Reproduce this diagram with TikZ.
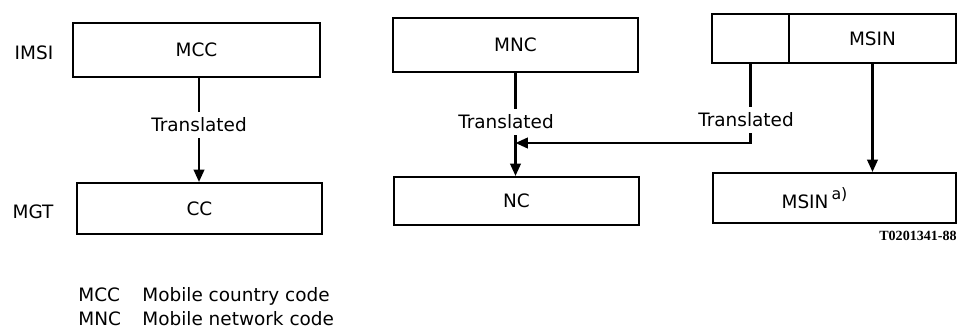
\documentclass[tikz,border=0pt]{standalone}
\usepackage{fontspec}
\setmainfont{DejaVu Sans}
\newfontfamily\tagfont{Liberation Serif}
\usetikzlibrary{arrows.meta}

\tikzset{
	field/.style={draw=black,very thick,inner sep=0pt},
	note/.style={inner sep=0pt},
	feed/.style={very thick,black},
	>={Triangle[length=7pt,width=6pt]}
}

\begin{document}
\begin{tikzpicture}[font=\fontsize{10.5}{12}\selectfont]
	\useasboundingbox (0,0) rectangle (19.16,-6.58);
	
	% IMSI row
	\node at (0.68,-1.06) (imsi) {IMSI};
	\node [field,minimum width=4.94cm,minimum height=1.08cm] at (3.93,-1.0) (mcc) {MCC};
	\node [field,minimum width=4.9cm,minimum height=1.08cm] at (10.31,-0.9) (mnc) {MNC};
	\node [field,minimum width=1.54cm,minimum height=0.98cm] at (15.01,-0.77) (idp) {};
	\node [field,minimum width=3.34cm,minimum height=0.98cm] at (17.45,-0.77) (msin) {MSIN};
	
	% MGT row
	\node at (0.66,-4.24) (mgt) {MGT};
	\node [field,minimum width=4.9cm,minimum height=1.02cm] at (3.99,-4.17) (cc) {CC};
	\node [field,minimum width=4.9cm,minimum height=0.96cm] at (10.33,-4.02) (nc) {NC};
	\node [field,minimum width=4.86cm,minimum height=1.0cm] at (16.69,-3.96) (msinb) {};
	\node at ([xshift=-0.4cm]msinb.center) (msinbtext) {MSIN\,\raisebox{0.45em}{\fontsize{9}{10}\selectfont a)}};
	
	% translations
	\node at (3.98,-2.5) (trcc) {Translated};
	\node at (10.12,-2.44) (trnc) {Translated};
	\node at (14.92,-2.4) (trid) {Translated};
	\coordinate (join) at (10.31,-2.86);
	
	\draw [feed] (mcc.south -| trcc) -- (trcc.north);
	\draw [feed,->] (trcc.south) -- (trcc.south |- cc.north);
	\draw [feed] (mnc.south) -- (mnc.south |- trnc.north);
	\draw [feed,->] (mnc.south |- trnc.south) -- (mnc.south |- nc.north);
	\draw [feed] (idp.south) -- (idp.south |- trid.north);
	\draw [feed,->] (idp.south |- trid.south) |- (join);
	\draw [feed,->] (msin.south) -- (msin.south |- msinb.north);
	
	\node [note,anchor=base east,font=\tagfont\fontsize{8}{9}\selectfont\bfseries] at (19.14,-4.8) (tag) {T0201341-88};
	
	% legend
	\node [note,anchor=base west] at (1.56,-6.02) (kmcc) {MCC};
	\node [note,anchor=base west] at (2.84,-6.02) (tmcc) {Mobile country code};
	\node [note,anchor=base west] at (1.56,-6.5) (kmnc) {MNC};
	\node [note,anchor=base west] at (2.84,-6.5) (tmnc) {Mobile network code};
\end{tikzpicture}
\end{document}
